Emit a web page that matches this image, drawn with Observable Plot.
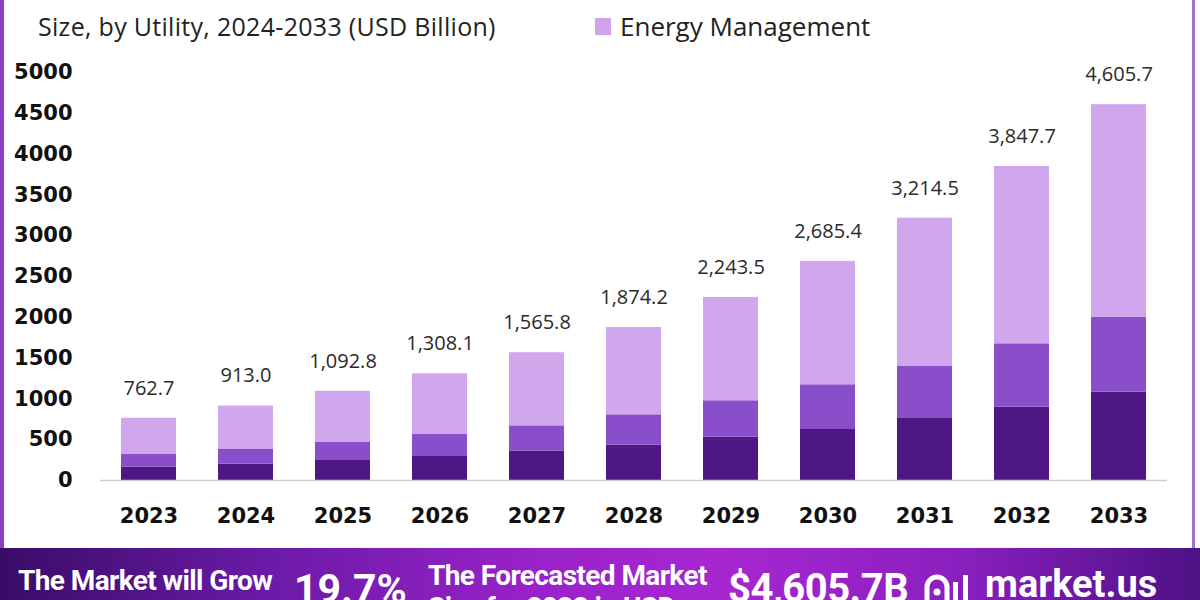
<!DOCTYPE html>
<html>
<head>
<meta charset="utf-8">
<script src="https://cdn.jsdelivr.net/npm/d3@7"></script>
<script src="https://cdn.jsdelivr.net/npm/@observablehq/plot@0.6"></script>
<style>
  html, body { margin: 0; padding: 0; background: #fff; }
  #page { position: relative; width: 1200px; height: 600px; overflow: hidden; background: #fff; font-family: "Open Sans", sans-serif; }
  #chart { position: absolute; left: 0; top: 0; }
  .lborder { position: absolute; left: 0; top: 0; width: 4px; height: 548px; background: #8a3fc2; }
  .rborder { position: absolute; left: 1192px; top: 0; width: 3px; height: 548px; background: #a070cc; }
  .subtitle { position: absolute; left: 38px; top: 9px; font-size: 25px; letter-spacing: 0.3px; color: #222; white-space: nowrap; }
  .legend { position: absolute; left: 595px; top: 8px; font-size: 26px; color: #222; white-space: nowrap; display: flex; align-items: center; }
  .legend .sw { width: 16px; height: 17px; background: #cfa4ec; margin-right: 9px; }
  .banner { position: absolute; left: 0; top: 548px; width: 1200px; height: 52px;
    background: linear-gradient(90deg, #3a0c68 0%, #6a1aa6 22%, #9a22cb 45%, #a826d2 60%, #8a1fbf 80%, #4d1185 100%); }
  .banner div { position: absolute; color: #fff; font-family: Roboto, sans-serif; font-weight: 700; white-space: nowrap; }
  .b1 { left: 18px; top: 17px; font-size: 28px; line-height: 32px; letter-spacing: -0.6px; }
  .b2 { left: 294px; top: 17px; font-size: 41px; line-height: 48px; }
  .b3 { left: 428px; top: 12px; font-size: 28px; line-height: 32px; letter-spacing: -0.6px; }
  .b4 { left: 728px; top: 17px; font-size: 40px; line-height: 48px; letter-spacing: -0.5px; }
  .b5 { left: 985px; top: 16px; font-size: 38px; line-height: 40px; }
  .logo { position: absolute; left: 922px; top: 22px; }
  #chart svg g[aria-label="y-axis tick label"] text { font-weight: 700; font-family: "DejaVu Sans", sans-serif; }
  #chart svg g[aria-label="x-axis tick label"] text { font-weight: 700; font-family: "DejaVu Sans", sans-serif; }
</style>
</head>
<body>
<div id="page">
  <div id="chart"></div>
  <div class="lborder"></div>
  <div class="rborder"></div>
  <div class="subtitle">Size, by Utility, 2024-2033 (USD Billion)</div>
  <div class="legend"><span class="sw"></span>Energy Management</div>
  <div class="banner">
    <div class="b1">The Market will Grow</div>
    <div class="b2">19.7%</div>
    <div class="b3">The Forecasted Market<br>Size for 2033 in USD</div>
    <div class="b4">$4,605.7B</div>
    <svg class="logo" width="56" height="40" viewBox="0 0 56 40">
      <path d="M5 32 V17 a10 10 0 0 1 20 0 V32" fill="none" stroke="#fff" stroke-width="5"/>
      <circle cx="15" cy="22" r="3.5" fill="#fff"/>
      <rect x="31" y="12" width="5" height="20" fill="#fff"/>
      <rect x="41" y="5" width="5" height="27" fill="#fff"/>
    </svg>
    <div class="b5">market.us</div>
  </div>
</div>
<script>
const years = ["2023","2024","2025","2026","2027","2028","2029","2030","2031","2032","2033"];
const totals = [762.7, 913.0, 1092.8, 1308.1, 1565.8, 1874.2, 2243.5, 2685.4, 3214.5, 3847.7, 4605.7];
const darkVals = [163, 200, 245, 294, 359, 433, 531, 625, 760, 898, 1082];
const medVals = [156, 180, 221, 270, 311, 372, 446, 548, 637, 777, 919];
const lightVals = [443.7, 533.0, 626.8, 744.1, 895.8, 1069.2, 1266.5, 1512.4, 1817.5, 2172.7, 2604.7];
const segNames = ["Segment A", "Segment B", "Energy Management"];
const segColors = ["#4e1784", "#8a4ecb", "#d0a6ec"];
const yTicks = [0, 500, 1000, 1500, 2000, 2500, 3000, 3500, 4000, 4500, 5000];

const rows = [];
years.forEach((y, i) => {
  rows.push({year: y, seg: segNames[0], value: darkVals[i]});
  rows.push({year: y, seg: segNames[1], value: medVals[i]});
  rows.push({year: y, seg: segNames[2], value: lightVals[i]});
});
const totalRows = years.map((y, i) => ({year: y, total: totals[i]}));
const fmt = d3.format(",.1f");

const chart = Plot.plot({
  width: 1200,
  height: 548,
  marginLeft: 100,
  marginRight: 33,
  marginTop: 72,
  marginBottom: 68,
  style: {fontFamily: "Roboto, sans-serif", color: "#111", background: "transparent"},
  x: {domain: years, paddingInner: 0.433, paddingOuter: 0.2165, label: null},
  y: {domain: [0, 5000], label: null},
  color: {domain: segNames, range: segColors},
  marks: [
    Plot.barY(rows, Plot.stackY({x: "year", y: "value", fill: "seg", z: "seg", order: segNames})),
    Plot.ruleY([0], {stroke: "#cfcfcf", strokeWidth: 1.5}),
    Plot.text(totalRows, {x: "year", y: "total", text: d => fmt(d.total), dy: -30, fontSize: 20, fill: "#2a2a2a", fontFamily: "Open Sans, sans-serif"}),
    Plot.axisY({ticks: yTicks, tickSize: 0, tickPadding: 28, fontSize: 21, label: null, tickFormat: d => String(d)}),
    Plot.axisX({tickSize: 0, tickPadding: 28, fontSize: 21, label: null})
  ]
});
document.getElementById("chart").appendChild(chart);
</script>
</body>
</html>
